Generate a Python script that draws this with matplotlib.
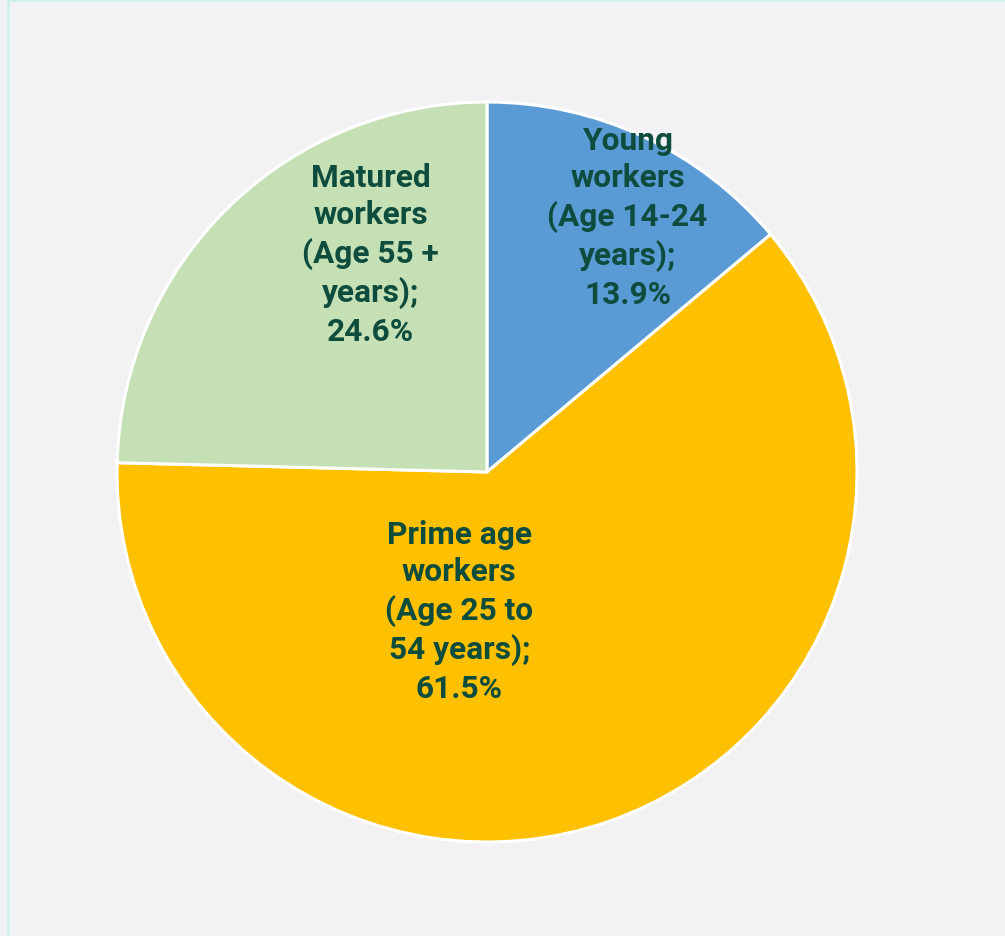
import numpy as np
import matplotlib.pyplot as plt
from matplotlib.lines import Line2D

# data
labels = ['Young\nworkers\n(Age 14-24\nyears);\n13.9%',
          'Prime age\nworkers\n(Age 25 to\n54 years);\n61.5%',
          'Matured\nworkers\n(Age 55 +\nyears);\n24.6%']
shares = [13.9, 61.5, 24.6]
colors = ['#5B9BD5', '#FFC000', '#C5E0B4']

# label positions as fraction of radius (x, y)
label_pos = [(0.38, 0.69), (-0.075, -0.375), (-0.315, 0.59)]

bg = '#F2F2F4'
txt_color = '#0E4C3E'

fig = plt.figure(figsize=(10.05, 9.37), dpi=100)
fig.patch.set_facecolor(bg)

W, H = 1005, 937
cx, cy, r = 487, 937 - 473, 370
ax = fig.add_axes([(cx - r) / W, (cy - r) / H, 2 * r / W, 2 * r / H])
ax.set_facecolor(bg)

wedges, texts = ax.pie(shares, labels=labels, colors=colors, startangle=90,
                       counterclock=False, radius=1.0,
                       wedgeprops=dict(edgecolor='white', linewidth=2.2),
                       textprops=dict(fontsize=22.8, fontweight='bold', color=txt_color,
                                      family=['Roboto', 'DejaVu Sans'],
                                      ha='center', va='center', linespacing=1.31))
for t, (x, y) in zip(texts, label_pos):
    t.set_position((x, y))
    t.set_ha('center')
    t.set_va('center')
    t.set_multialignment('center')

ax.set_xlim(-1, 1)
ax.set_ylim(-1, 1)
ax.set_aspect('equal')
ax.axis('off')

# thin border on left and top of the frame
fig.add_artist(Line2D([7.5 / W, 7.5 / W], [0, 1], color='#C9F4E9', linewidth=2,
                      transform=fig.transFigure))
fig.add_artist(Line2D([7.5 / W, 1], [1 - 1 / H, 1 - 1 / H], color='#C9F4E9', linewidth=2,
                      transform=fig.transFigure))

fig.savefig('out.png', dpi=100, facecolor=bg)
